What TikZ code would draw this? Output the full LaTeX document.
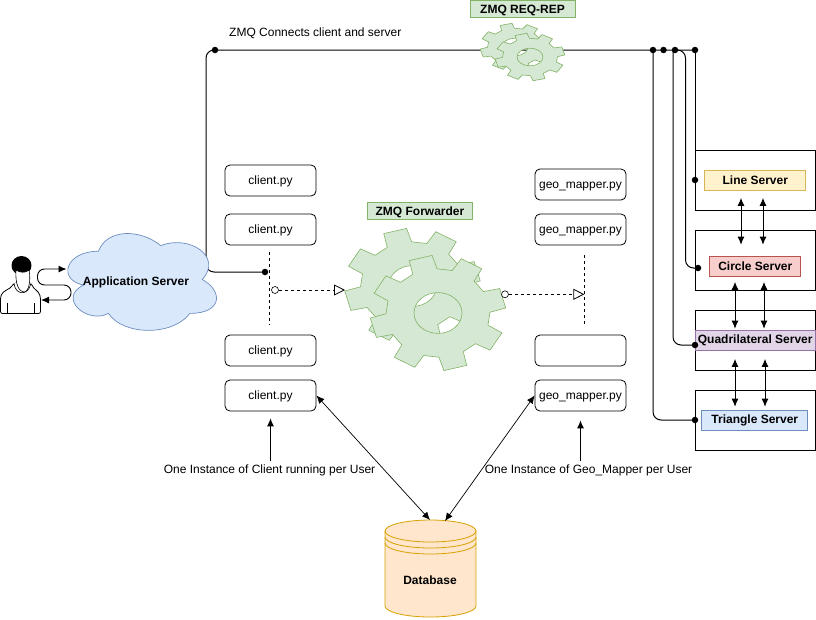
\documentclass[tikz,border=0pt]{standalone}
\usepackage{fontspec}
\setmainfont{Liberation Sans}
\usetikzlibrary{arrows.meta}
\definecolor{gearfill}{HTML}{D5E8D4}
\definecolor{gearline}{HTML}{82B366}
\definecolor{yellowfill}{HTML}{FFF2CC}
\definecolor{yellowline}{HTML}{D6B656}
\definecolor{redfill}{HTML}{F8CECC}
\definecolor{redline}{HTML}{B85450}
\definecolor{purplefill}{HTML}{E1D5E7}
\definecolor{purpleline}{HTML}{9673A6}
\definecolor{bluefill}{HTML}{DAE8FC}
\definecolor{blueline}{HTML}{6C8EBF}
\definecolor{dbfill}{HTML}{FFE6CC}
\definecolor{dbline}{HTML}{D7A100}
\newcommand{\labelfont}{\fontsize{12}{14}\selectfont}
\newcommand{\boldfont}{\fontsize{12}{14}\selectfont\bfseries}
\tikzset{
    proc/.style={draw,rounded corners=5pt,minimum width=91pt,minimum height=31pt,inner sep=0pt,line width=0.8pt,text height=8pt,text depth=0pt},
    outerbox/.style={draw,minimum width=120.5pt,minimum height=60pt,inner sep=0pt,line width=0.8pt},
    server/.style={draw,font=\boldfont,minimum height=20.5pt,inner sep=0pt,line width=0.7pt},
    tag/.style={draw=gearline,fill=gearfill,font=\boldfont,minimum width=105pt,minimum height=17pt,inner sep=0pt,line width=0.7pt,text height=10pt,text depth=0pt},
    dot/.style={circle,fill=black,inner sep=0pt,minimum size=6.5pt},
    opendot/.style={circle,draw,fill=white,inner sep=0pt,minimum size=7pt,line width=0.6pt},
    wire/.style={line width=1pt,rounded corners=8pt},
    twoway/.style={line width=0.9pt,<->},
    msg/.style={dashed,line width=0.8pt,-{Triangle[open,length=11pt,width=11pt]}},
    lifeline/.style={dashed,line width=0.8pt},
}
% cx, cy, outer radius, inner radius, y squash, hole radius
\newcommand{\drawgear}[6]{
    \path[draw=gearline,fill=gearfill,even odd rule,line width=0.6pt]
    ({#1+#4*cos(16)},{#2+#5*#4*sin(16)})
    \foreach \a in {30,75,120,165,210,255,300,345}
    {
        -- ({#1+#4*cos(\a-14)},{#2+#5*#4*sin(\a-14)})
        -- ({#1+#3*cos(\a-10)},{#2+#5*#3*sin(\a-10)})
        -- ({#1+#3*cos(\a+10)},{#2+#5*#3*sin(\a+10)})
        -- ({#1+#4*cos(\a+14)},{#2+#5*#4*sin(\a+14)})
    }
    -- cycle
    (#1,#2) ellipse [x radius=#6,y radius=#5*#6];
}
\begin{document}
\begin{tikzpicture}[x=1pt,y=-1pt,>={Latex[length=8pt,width=7pt]},font=\labelfont]
    \useasboundingbox (0,0) rectangle (816,619);
    % client and mapper instances
    \foreach \n/\y/\t in {1/180.5/client.py,2/229.5/client.py,3/350.5/client.py,4/395.5/client.py}
    {
        \node[proc] (client\n) at (270.5,\y) {\t};
    }
    \foreach \n/\y/\t in {1/184.5/geo\_mapper.py,2/229.5/geo\_mapper.py,3/350.5/{},4/395.5/geo\_mapper.py}
    {
        \node[proc] (geo\n) at (580.5,\y) {\t};
    }
    % servers
    \node[outerbox] (linebox) at (755.2,180) {};
    \node[outerbox] (circlebox) at (755.2,260) {};
    \node[outerbox] (quadbox) at (755.2,340) {};
    \node[outerbox] (tribox) at (755.2,420) {};
    \node[server,fill=yellowfill,draw=yellowline,minimum width=101pt] (lineserver) at (755.3,180.3) {Line Server};
    \node[server,fill=redfill,draw=redline,minimum width=91pt] (circleserver) at (755.3,266.3) {Circle Server};
    \node[server,fill=purplefill,draw=purpleline,minimum width=120pt] (quadserver) at (755.2,340.3) {Quadrilateral Server};
    \node[server,fill=bluefill,draw=blueline,minimum width=106pt] (triserver) at (754.8,420.3) {Triangle Server};
    \foreach \a/\b/\x/\sa/\sb in {lineserver/circleserver/741/7/11,lineserver/circleserver/763/7/11,
        circleserver/quadserver/735/5/1,circleserver/quadserver/764/5/1,
        quadserver/triserver/735/8/3,quadserver/triserver/765/8/3}
    {
        \draw[twoway,shorten <=\sa pt,shorten >=\sb pt] (\a.south -| \x,0)--(\b.north -| \x,0);
    }
    % request reply bus
    \node[dot] (dotclient) at (265,272) {};
    \node[dot] (dotmain) at (215,50) {};
    \node[dot] (junc1) at (653,50) {};
    \node[dot] (junc2) at (663.5,50) {};
    \node[dot] (junc3) at (675,50) {};
    \node[dot] (junc4) at (695,50) {};
    \node[dot] (dotline) at (695,180) {};
    \node[dot] (dotcircle) at (698,268) {};
    \node[dot] (dotquad) at (695,345) {};
    \node[dot] (dottri) at (695,420) {};
    \coordinate (buscorner) at (206,50);
    \coordinate (bendcircle) at (685.5,268);
    \coordinate (bendquad) at (673,50);
    \draw[wire] (dotclient.center) -| (buscorner) -- (junc4.center);
    \draw[wire] (junc1.center) |- (dottri.center);
    \draw[wire] (bendquad) |- (dotquad.center);
    \draw[wire] (junc3.center) -| (bendcircle) -- (dotcircle.center);
    \draw[line width=1pt] (junc4.center) -- (dotline.center);
    \node[anchor=west] (connects) at (225.7,33) {ZMQ Connects client and server};
    % gears
    \drawgear{515}{47}{35}{27.5}{0.68}{13}
    \drawgear{530}{57}{35}{27.5}{0.68}{13}
    \drawgear{412.5}{286}{68}{52}{0.85}{24}
    \drawgear{438}{313}{68}{52}{0.85}{24}
    \node[tag] (reqrep) at (522.5,8.5) {ZMQ REQ-REP};
    \node[tag] (forwarder) at (420,210.5) {ZMQ Forwarder};
    % forwarder messages
    \coordinate (lifea1) at (269,252);
    \coordinate (lifea2) at (269,325);
    \coordinate (lifeb1) at (584.5,255);
    \coordinate (lifeb2) at (584.5,325);
    \draw[lifeline] (lifea1)--(lifea2);
    \draw[lifeline] (lifeb1)--(lifeb2);
    \node[opendot] (opena) at (275,290) {};
    \node[opendot] (openb) at (505,294.3) {};
    \coordinate (tipa) at (345,290);
    \coordinate (tipb) at (584.3,294.3);
    \draw[msg] (opena)--(tipa);
    \draw[msg] (openb)--(tipb);
    % application server and user
    \draw[draw=blueline,fill=bluefill,line width=0.7pt,shift={(57,223)},x=166pt,y=-113pt]
        (0.25,0.25) .. controls (0.05,0.25) and (0,0.5) .. (0.16,0.55)
        .. controls (0,0.66) and (0.18,0.9) .. (0.31,0.8)
        .. controls (0.4,1) and (0.7,1) .. (0.8,0.8)
        .. controls (1,0.8) and (1,0.6) .. (0.875,0.5)
        .. controls (1,0.3) and (0.8,0.1) .. (0.625,0.2)
        .. controls (0.5,0.05) and (0.3,0.05) .. (0.25,0.25) -- cycle;
    \node[font=\boldfont] (appserver) at (136,282) {Application Server};
    \draw[line width=0.8pt,fill=white,rounded corners=2pt] (0.5,313.5)--(0.5,297)
        .. controls (3,290) and (10,290) .. (14,283)--(31,283)
        .. controls (34,290) and (38,290) .. (40.5,297)--(40.5,313.5)--cycle;
    \draw[line width=0.6pt] (7,314)--(7,303) (34,314)--(34,303);
    \draw[line width=0.6pt,fill=white] (14,283) .. controls (15,296) and (29,296) .. (31,283);
    \fill[black] (21.5,265.5) ellipse [x radius=10,y radius=9.5];
    \draw[line width=0.6pt,fill=white] (16,270) .. controls (15,284) and (19,292) .. (24,292) .. controls (29,292) and (31,280) .. (29,270) .. controls (26,273) and (20,273) .. (16,270);
    \coordinate (userin) at (66.5,269);
    \coordinate (userout) at (41,300);
    \draw[line width=0.9pt,<->,rounded corners=7pt] (userin)--(37.5,269)--(37.5,285)--(71,285)--(71,300)--(userout);
    % database
    \draw[draw=dbline,fill=dbfill,line width=0.8pt] (385,531)--(385,606)
        arc[start angle=180,end angle=0,x radius=45.5,y radius=11]--(476,531)
        arc[start angle=0,end angle=-180,x radius=45.5,y radius=11]--cycle;
    \foreach \d in {0,6,12}
    {
        \draw[dbline,line width=0.8pt] (385,531+\d) arc[start angle=180,end angle=0,x radius=45.5,y radius=11];
    }
    \node[font=\boldfont] (database) at (430,580) {Database};
    \coordinate (dbleft) at (430,520);
    \coordinate (dbright) at (445,521);
    \draw[twoway,line width=0.7pt] (client4.east)--(dbleft);
    \draw[twoway,line width=0.7pt] (geo4.west)--(dbright);
    % per user notes
    \node (noteclient) at (269.5,470.5) {One Instance of Client running per User};
    \node (notegeo) at (588.5,470.5) {One Instance of Geo\_Mapper per User};
    \draw[->,line width=0.9pt,shorten >=7pt] (noteclient.north -| client4.south)--(client4.south);
    \draw[->,line width=0.9pt,shorten >=9pt] (notegeo.north -| geo4.south)--(geo4.south);
\end{tikzpicture}
\end{document}
